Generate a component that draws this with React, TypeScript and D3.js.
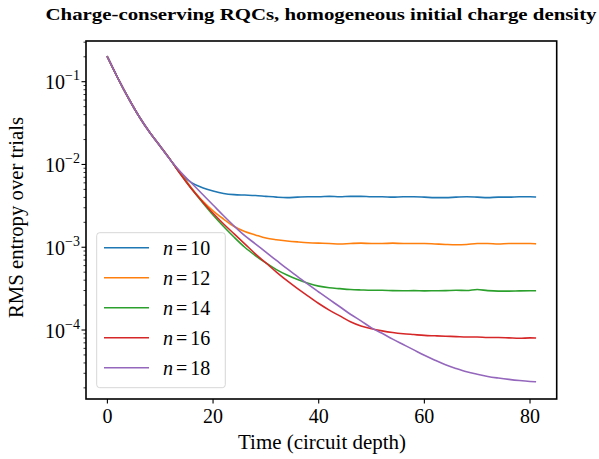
import React from "react";
import * as d3 from "d3";

const times = [0,2,4,6,8,10,12,14,16,18,20,22,24,26,28,30,32,34,36,38,40,42,44,46,48,50,52,54,56,58,60,62,64,66,68,70,72,74,76,78,80,81];
const common = [0.200,0.110,0.0631,0.0380,0.0245,0.0166,0.0112];

const n10 = [...common,7.6e-3,6.0e-3,5.25e-3,4.79e-3,4.47e-3,4.32e-3,4.27e-3,4.22e-3,4.12e-3,4.03e-3,3.98e-3,4.03e-3,4.07e-3,4.07e-3,4.12e-3,4.07e-3,4.12e-3,4.12e-3,4.07e-3,4.07e-3,4.03e-3,4.07e-3,4.07e-3,4.03e-3,3.98e-3,3.98e-3,4.03e-3,4.07e-3,4.03e-3,3.98e-3,4.03e-3,4.03e-3,4.07e-3,4.07e-3,4.05e-3];
const n12 = [...common,7.6e-3,5.13e-3,3.63e-3,2.75e-3,2.19e-3,1.78e-3,1.55e-3,1.41e-3,1.29e-3,1.23e-3,1.19e-3,1.16e-3,1.135e-3,1.12e-3,1.11e-3,1.096e-3,1.11e-3,1.12e-3,1.11e-3,1.11e-3,1.12e-3,1.11e-3,1.11e-3,1.11e-3,1.096e-3,1.08e-3,1.07e-3,1.08e-3,1.11e-3,1.11e-3,1.096e-3,1.11e-3,1.11e-3,1.11e-3,1.10e-3];
const n14 = [...common,7.41e-3,5.01e-3,3.47e-3,2.45e-3,1.78e-3,1.32e-3,1.00e-3,7.94e-4,6.46e-4,5.37e-4,4.62e-4,4.07e-4,3.67e-4,3.39e-4,3.24e-4,3.16e-4,3.09e-4,3.05e-4,3.02e-4,3.02e-4,2.99e-4,2.98e-4,2.99e-4,2.97e-4,2.98e-4,2.99e-4,3.02e-4,3.0e-4,3.09e-4,2.99e-4,2.95e-4,2.95e-4,2.97e-4,2.98e-4,2.98e-4];
const n16 = [...common,7.41e-3,5.01e-3,3.55e-3,2.57e-3,1.91e-3,1.45e-3,1.10e-3,8.32e-4,6.46e-4,5.01e-4,3.94e-4,3.16e-4,2.57e-4,2.09e-4,1.74e-4,1.48e-4,1.26e-4,1.12e-4,1.035e-4,9.77e-5,9.33e-5,9.02e-5,8.81e-5,8.61e-5,8.51e-5,8.41e-5,8.32e-5,8.22e-5,8.22e-5,8.13e-5,8.13e-5,8.04e-5,7.94e-5,8.04e-5,8.0e-5];
const n18 = [...common,7.94e-3,5.89e-3,4.37e-3,3.24e-3,2.40e-3,1.80e-3,1.38e-3,1.10e-3,8.71e-4,6.92e-4,5.50e-4,4.42e-4,3.55e-4,2.88e-4,2.34e-4,1.91e-4,1.55e-4,1.29e-4,1.06e-4,9.12e-5,7.76e-5,6.68e-5,5.75e-5,4.95e-5,4.32e-5,3.80e-5,3.43e-5,3.13e-5,2.92e-5,2.75e-5,2.63e-5,2.53e-5,2.45e-5,2.39e-5,2.37e-5];

const seriesLabels = ["10","12","14","16","18"];
const seriesValues = [n10, n12, n14, n16, n18];
const colors = ["#1f77b4","#ff7f0e","#2ca02c","#d62728","#9467bd"];
const xTicks = [0,20,40,60,80];
const yTickExps = [-1,-2,-3,-4];

const FONT = "'Liberation Serif', 'Times New Roman', serif";

export default function App() {
  const L = 86, R = 556.7, T = 41, B = 399;
  const x = d3.scaleLinear().domain([-4.05, 85.05]).range([L, R]);
  const y = d3.scaleLog().domain([Math.pow(10, -4.8335), Math.pow(10, -0.5083)]).range([B, T]);
  const line = d3.line<[number, number]>().x(d => x(d[0])).y(d => y(d[1])).curve(d3.curveMonotoneX);

  const minorTicks: number[] = [];
  for (let e = -5; e <= -1; e++) {
    for (let m = 2; m <= 9; m++) {
      const v = m * Math.pow(10, e);
      const py = y(v);
      if (py >= T && py <= B) minorTicks.push(v);
    }
  }

  return (
    <svg width={599} height={459} style={{ position: "absolute", left: 0, top: 0, background: "#fff" }} fontFamily={FONT}>
      <rect x={0} y={0} width={599} height={459} fill="#fff" />
      <text x={321} y={20} textAnchor="middle" fontSize={16} fontWeight="bold" textLength={551} lengthAdjust="spacingAndGlyphs">
        Charge-conserving RQCs, homogeneous initial charge density
      </text>
      <defs>
        <clipPath id="plotclip"><rect x={L} y={T} width={R - L} height={B - T} /></clipPath>
      </defs>
      <g clipPath="url(#plotclip)">
        {seriesValues.map((vals, i) => (
          <path key={i} d={line(times.map((t, j) => [t, vals[j]] as [number, number])) || ""} fill="none" stroke={colors[i]} strokeWidth={1.6} strokeLinejoin="round" strokeLinecap="square" />
        ))}
      </g>
      <rect x={L} y={T} width={R - L} height={B - T} fill="none" stroke="#000" strokeWidth={1.6} />
      {xTicks.map(t => (
        <g key={t}>
          <line x1={x(t)} x2={x(t)} y1={B} y2={B + 4.5} stroke="#000" strokeWidth={1.1} />
          <text x={x(t)} y={422.5} textAnchor="middle" fontSize={20}>{t}</text>
        </g>
      ))}
      {minorTicks.map((v, i) => (
        <line key={i} x1={L - 2.5} x2={L} y1={y(v)} y2={y(v)} stroke="#000" strokeWidth={0.8} />
      ))}
      {yTickExps.map(e => (
        <g key={e}>
          <line x1={L - 4.5} x2={L} y1={y(Math.pow(10, e))} y2={y(Math.pow(10, e))} stroke="#000" strokeWidth={1.1} />
          <text x={80} y={y(Math.pow(10, e)) + 7.5} textAnchor="end" fontSize={20}>
            10<tspan dy={-9} fontSize={14}>{"\u2212" + Math.abs(e)}</tspan>
          </text>
        </g>
      ))}
      <text x={322} y={449} textAnchor="middle" fontSize={20} textLength={168} lengthAdjust="spacingAndGlyphs">Time (circuit depth)</text>
      <text transform="translate(23,217.5) rotate(-90)" textAnchor="middle" fontSize={20} textLength={201} lengthAdjust="spacingAndGlyphs">RMS entropy over trials</text>
      <rect x={96.7} y={232.7} width={128.6} height={155} rx={3} fill="#fff" fillOpacity={0.8} stroke="#cccccc" strokeWidth={0.8} />
      {seriesLabels.map((lab, i) => (
        <g key={lab}>
          <line x1={104} x2={149} y1={247.7 + 30 * i} y2={247.7 + 30 * i} stroke={colors[i]} strokeWidth={1.6} />
          <text x={163} y={247.7 + 30 * i + 7} fontSize={20}>
            <tspan fontStyle="italic">n</tspan><tspan dx={3}>=</tspan><tspan dx={3}>{lab}</tspan>
          </text>
        </g>
      ))}
    </svg>
  );
}
